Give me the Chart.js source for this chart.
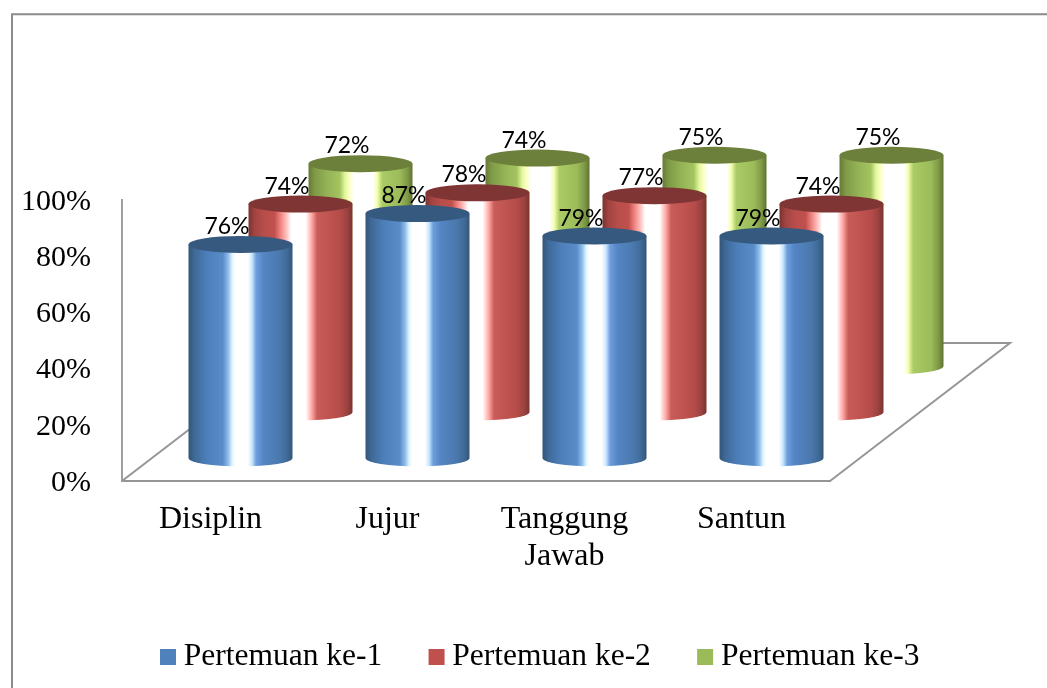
<!DOCTYPE html>
<html><head><meta charset="utf-8">
<style>html,body{margin:0;padding:0;background:#fff;overflow:hidden}canvas{display:block}</style>
<script src="https://cdn.jsdelivr.net/npm/chart.js@4/dist/chart.umd.js"></script>
</head><body><canvas id="c" width="1047" height="688"></canvas>
<script>
const categories = ['Disiplin', 'Jujur', ['Tanggung', 'Jawab'], 'Santun'];
const seriesNames = ['Pertemuan ke-1', 'Pertemuan ke-2', 'Pertemuan ke-3'];
const pertemuan1 = [76, 87, 79, 79];
const pertemuan2 = [74, 78, 77, 74];
const pertemuan3 = [72, 74, 75, 75];
const yTicks = [0, 20, 40, 60, 80, 100];

const depthX = 60, depthY = 46, ry = 8.5;
const looks = [
  {top:'#36597f', base:'#4f81bd', stops:[[0,'#345577'],[.06,'#3f6a98'],[.18,'#4d7fbb'],[.33,'#5a8cc9'],[.38,'#8dbbea'],[.42,'#dff6ff'],[.45,'#ffffff'],[.57,'#ffffff'],[.61,'#cbe7ff'],[.65,'#6e9fdc'],[.72,'#5585c4'],[.88,'#4a78ad'],[.95,'#3f6a96'],[1,'#345577']]},
  {top:'#7f3534', base:'#c0504d', stops:[[0,'#7a3331'],[.06,'#a24442'],[.15,'#b84e4b'],[.25,'#c0504d'],[.31,'#f08582'],[.37,'#ffc8c6'],[.41,'#ffffff'],[.55,'#ffffff'],[.61,'#ffa5a2'],[.66,'#c85c59'],[.88,'#b64c49'],[.95,'#9a4240'],[1,'#7a3331']]},
  {top:'#6d803b', base:'#9bbb59', stops:[[0,'#667a35'],[.06,'#7f9a47'],[.18,'#94b356'],[.3,'#a4c460'],[.35,'#dff79a'],[.39,'#fbffc0'],[.44,'#ffffff'],[.62,'#ffffff'],[.66,'#f5ffb0'],[.71,'#aacb66'],[.88,'#9cbb59'],[.95,'#7f9a47'],[1,'#5f7331']]}
];

class CylinderController extends Chart.BarController {
  draw() {
    const ctx = this.chart.ctx, i = this.index, look = looks[i];
    const ox = (i + .5) * depthX, oy = -(i + .5) * depthY;
    this._cachedMeta.data.forEach(el => {
      const rx = el.width / 2, cx = el.x + ox, top = el.y + oy, base = el.base + oy;
      const g = ctx.createLinearGradient(cx - rx, 0, cx + rx, 0);
      look.stops.forEach(s => g.addColorStop(s[0], s[1]));
      ctx.save();
      ctx.beginPath();
      ctx.moveTo(cx - rx, top);
      ctx.lineTo(cx - rx, base);
      ctx.ellipse(cx, base, rx, ry, 0, Math.PI, 0, true);
      ctx.lineTo(cx + rx, top);
      ctx.closePath();
      ctx.fillStyle = g; ctx.fill();
      ctx.beginPath();
      ctx.ellipse(cx, top, rx, ry, 0, 0, Math.PI * 2);
      ctx.fillStyle = look.top; ctx.fill();
      ctx.restore();
    });
  }
}
CylinderController.id = 'cylinder';
CylinderController.defaults = Chart.BarController.defaults;
CylinderController.overrides = Chart.BarController.overrides;
Chart.register(CylinderController);

const scene = {
  id: 'scene',
  afterLayout(chart) {
    chart.legend.left = 113.75;
    chart.legend.top = 587;
  },
  beforeDraw(chart) {
    const ctx = chart.ctx;
    ctx.save();
    ctx.strokeStyle = '#8c8c8c'; ctx.lineWidth = 2;
    ctx.beginPath();
    ctx.moveTo(12, 688); ctx.lineTo(12, 14.3); ctx.lineTo(1047, 14.3);
    ctx.stroke();
    ctx.restore();
  },
  beforeDatasetsDraw(chart) {
    const ctx = chart.ctx, a = chart.chartArea, dx = 3 * depthX, dy = 3 * depthY;
    ctx.save();
    ctx.strokeStyle = '#969696'; ctx.lineWidth = 2;
    ctx.beginPath();
    ctx.moveTo(a.left, a.bottom);
    ctx.lineTo(a.left + dx, a.bottom - dy);
    ctx.lineTo(a.right + dx, a.bottom - dy);
    ctx.lineTo(a.right, a.bottom);
    ctx.stroke();
    ctx.restore();
  },
  afterDatasetsDraw(chart) {
    const ctx = chart.ctx;
    ctx.save();
    ctx.font = '23px Lato';
    ctx.fillStyle = '#000';
    ctx.textAlign = 'center';
    ctx.textBaseline = 'alphabetic';
    chart.data.datasets.forEach((ds, i) => {
      chart.getDatasetMeta(i).data.forEach((el, j) => {
        const cx = el.x + (i + .5) * depthX, top = el.y - (i + .5) * depthY;
        ctx.fillText(ds.data[j] + '%', cx - 13.5, top - ry - 2);
      });
    });
    ctx.restore();
  }
};

new Chart(document.getElementById('c'), {
  type: 'cylinder',
  plugins: [scene],
  data: {
    labels: categories,
    datasets: [pertemuan1, pertemuan2, pertemuan3].map((d, i) => ({
      label: seriesNames[i], data: d, backgroundColor: looks[i].base, clip: false,
      grouped: false, barPercentage: 1, categoryPercentage: 104 / 177
    }))
  },
  options: {
    responsive: false, animation: false,
    layout: { padding: { top: 200, left: 0, right: 0, bottom: 0 } },
    scales: {
      x: {
        type: 'category', offset: true,
        grid: { display: false },
        border: { display: true, color: '#969696', width: 2 },
        ticks: { autoSkip: false, maxRotation: 0, minRotation: 0, padding: 12.5, color: '#000',
          font: { family: 'Liberation Serif', size: 32, lineHeight: 1.15 } },
        afterFit(s) { s.height = 207 - s.chart.legend.height; }
      },
      y: {
        type: 'linear', min: 0, max: 100,
        grid: { display: false, drawTicks: false },
        border: { display: true, color: '#a0a0a0', width: 2 },
        afterBuildTicks(s) { s.ticks = yTicks.map(v => ({ value: v })); },
        ticks: { padding: 31, labelOffset: 2, color: '#000', callback: v => v + '%',
          font: { family: 'Liberation Serif', size: 30 } },
        afterFit(s) { s.width = 122; }
      },
      spacer: {
        type: 'linear', position: 'right', display: true,
        grid: { display: false, drawTicks: false }, border: { display: false },
        ticks: { display: false },
        afterFit(s) { s.width = 217; }
      }
    },
    plugins: {
      tooltip: { enabled: false },
      legend: {
        position: 'bottom', align: 'start',
        labels: { usePointStyle: true, pointStyle: 'rect', boxWidth: 0.01, boxHeight: 16, padding: 54.25, color: '#000',
          font: { family: 'Liberation Serif', size: 31.5 } }
      }
    }
  }
});
</script></body></html>
